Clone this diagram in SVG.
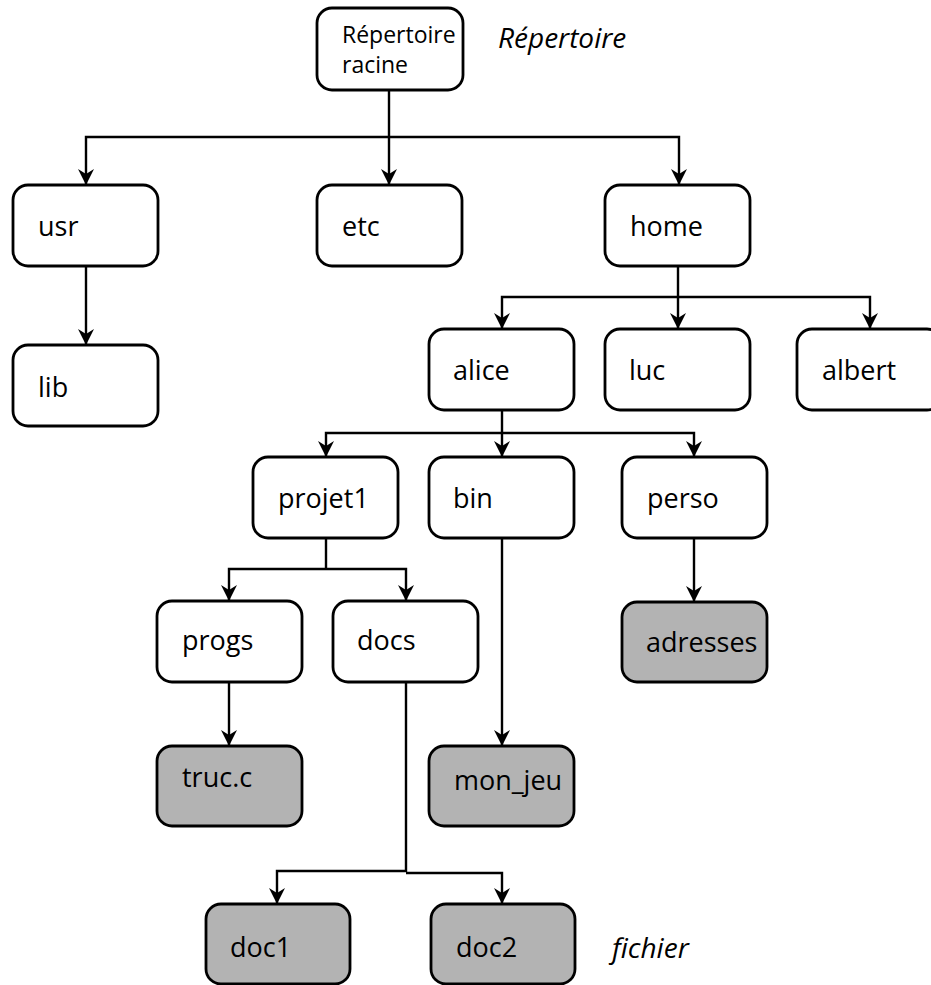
<svg xmlns="http://www.w3.org/2000/svg" width="931" height="985" viewBox="0 0 931 985">
  <style>
    .box { fill: #ffffff; stroke: #000000; stroke-width: 2.8; }
    .file { fill: #b3b3b3; stroke: #000000; stroke-width: 2.8; }
    .lbl { font-family: "Open Sans", "Liberation Sans", sans-serif; font-size: 27px; fill: #000000; }
    .root { font-size: 23px; }
    .legend { font-family: "Open Sans", "Liberation Sans", sans-serif; font-size: 28px; font-style: italic; fill: #000000; }
    .edge { fill: none; stroke: #000000; stroke-width: 2.4; marker-end: url(#arrow); }
    .trunk { fill: none; stroke: #000000; stroke-width: 2.4; }
  </style>
  <defs>
    <marker id="arrow" viewBox="0 0 16 16" refX="16" refY="8" markerWidth="16" markerHeight="16" markerUnits="userSpaceOnUse" orient="auto">
      <path d="M0,0 L16,8 L0,16 L5,8 Z" fill="#000000"/>
    </marker>
  </defs>

  <rect width="931" height="985" fill="#ffffff"/>

  <!-- connectors -->
  <g id="connectors">
    <path class="trunk" d="M389,90 V137"/>
    <path class="edge" d="M389,137 H86 V185"/>
    <path class="edge" d="M389,137 V185"/>
    <path class="edge" d="M389,137 H679 V185"/>
    <path class="edge" d="M86,266 V345"/>
    <path class="trunk" d="M678,266 V297"/>
    <path class="edge" d="M678,297 H502 V329"/>
    <path class="edge" d="M678,297 V329"/>
    <path class="edge" d="M678,297 H870 V329"/>
    <path class="trunk" d="M502,410 V433"/>
    <path class="edge" d="M502,433 H326 V457"/>
    <path class="edge" d="M502,433 V457"/>
    <path class="edge" d="M502,433 H694 V457"/>
    <path class="trunk" d="M326,538 V569"/>
    <path class="edge" d="M326,569 H229 V601"/>
    <path class="edge" d="M326,569 H406 V601"/>
    <path class="edge" d="M229,682 V746"/>
    <path class="edge" d="M406,682 V871 H277 V904"/>
    <path class="edge" d="M406,873 H502 V904"/>
    <path class="edge" d="M502,538 V746"/>
    <path class="edge" d="M694,538 V602"/>
  </g>

  <!-- directories -->
  <g id="root">
    <rect class="box" x="317" y="8" width="146" height="82" rx="15"/>
    <text class="lbl root" x="342" y="43">Répertoire</text>
    <text class="lbl root" x="342" y="73">racine</text>
  </g>
  <g id="usr">
    <rect class="box" x="13" y="185" width="145" height="81" rx="15"/>
    <text class="lbl" x="38" y="236">usr</text>
  </g>
  <g id="etc">
    <rect class="box" x="317" y="185" width="145" height="81" rx="15"/>
    <text class="lbl" x="342" y="236">etc</text>
  </g>
  <g id="home">
    <rect class="box" x="605" y="185" width="145" height="81" rx="15"/>
    <text class="lbl" x="630" y="236">home</text>
  </g>
  <g id="lib">
    <rect class="box" x="13" y="345" width="145" height="81" rx="15"/>
    <text class="lbl" x="38" y="397">lib</text>
  </g>
  <g id="alice">
    <rect class="box" x="429" y="329" width="145" height="81" rx="15"/>
    <text class="lbl" x="453" y="380">alice</text>
  </g>
  <g id="luc">
    <rect class="box" x="605" y="329" width="145" height="81" rx="15"/>
    <text class="lbl" x="629" y="380">luc</text>
  </g>
  <g id="albert">
    <rect class="box" x="797" y="329" width="145" height="81" rx="15"/>
    <text class="lbl" x="822" y="380">albert</text>
  </g>
  <g id="projet1">
    <rect class="box" x="253" y="457" width="145" height="81" rx="15"/>
    <text class="lbl" x="278" y="508">projet1</text>
  </g>
  <g id="bin">
    <rect class="box" x="429" y="457" width="145" height="81" rx="15"/>
    <text class="lbl" x="453" y="508">bin</text>
  </g>
  <g id="perso">
    <rect class="box" x="622" y="457" width="145" height="81" rx="15"/>
    <text class="lbl" x="647" y="508">perso</text>
  </g>
  <g id="progs">
    <rect class="box" x="157" y="601" width="145" height="81" rx="15"/>
    <text class="lbl" x="182" y="650">progs</text>
  </g>
  <g id="docs">
    <rect class="box" x="333" y="601" width="145" height="81" rx="15"/>
    <text class="lbl" x="357" y="650">docs</text>
  </g>

  <!-- files -->
  <g id="adresses">
    <rect class="file" x="622" y="602" width="145" height="80" rx="15"/>
    <text class="lbl" x="646" y="652">adresses</text>
  </g>
  <g id="truc_c">
    <rect class="file" x="157" y="746" width="145" height="80" rx="15"/>
    <text class="lbl" x="182" y="787">truc.c</text>
  </g>
  <g id="mon_jeu">
    <rect class="file" x="429" y="746" width="145" height="80" rx="15"/>
    <text class="lbl" x="454" y="790">mon_jeu</text>
  </g>
  <g id="doc1">
    <rect class="file" x="206" y="904" width="144" height="80" rx="15"/>
    <text class="lbl" x="230" y="957">doc1</text>
  </g>
  <g id="doc2">
    <rect class="file" x="431" y="904" width="144" height="80" rx="15"/>
    <text class="lbl" x="456" y="957">doc2</text>
  </g>

  <!-- legend -->
  <g id="legend">
    <text class="legend" x="498" y="48">Répertoire</text>
    <text class="legend" x="612" y="958">fichier</text>
  </g>
</svg>
